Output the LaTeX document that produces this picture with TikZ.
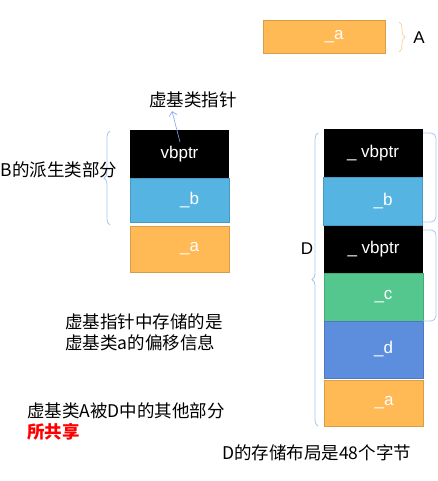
\documentclass[tikz,border=0pt]{standalone}
\usepackage{fontspec}
\setmainfont{Noto Sans CJK SC}
\newfontfamily\arialfont{Liberation Sans}
\usetikzlibrary{arrows.meta,decorations.pathreplacing}
\definecolor{ptrblack}{HTML}{000000}
\definecolor{bblue}{HTML}{56B4E2}
\definecolor{aorange}{HTML}{FFB955}
\definecolor{cgreen}{HTML}{54C78F}
\definecolor{dblue}{HTML}{5D8EDD}
\definecolor{braceblue}{HTML}{A6C8EE}
\definecolor{braceorange}{HTML}{FBD5A4}
\newcommand{\fld}[1]{\hspace*{20pt}\_#1}
\tikzset{
  cell/.style={minimum width=99pt,inner sep=0pt,text=white,
    font=\arialfont\fontsize{17}{19}\selectfont},
  note/.style={font=\fontsize{17.5}{21}\selectfont,align=left,inner sep=0pt},
  membrace/.style={draw=braceblue,line width=0.8pt,decorate,
    decoration={brace,amplitude=6pt}},
  edgebrace/.style={draw=braceblue,line width=0.8pt,rounded corners=5pt}
}
\begin{document}
\begin{tikzpicture}[x=1pt,y=-1pt]
    \useasboundingbox (0,0) rectangle (437,481);
    % base class A alone
    \node[cell,minimum width=122pt,minimum height=33pt,fill=aorange,draw=aorange!85!black] (abox) at (324,36.5) {\fld{a}};
    \draw[membrace,draw=braceorange] (399,22) -- (399,52);
    \node[font=\arialfont\fontsize{17}{19}\selectfont,inner sep=0pt] (aname) at (419,38) {A};

    % B object
    \node[cell,minimum height=48pt,fill=ptrblack] (bvb) at (179.5,154) {vbptr};
    \node[cell,minimum height=44pt,fill=bblue,draw=bblue!85!black] (bb) at (179.5,200) {\fld{b}};
    \node[cell,minimum height=46pt,fill=aorange,draw=aorange!85!black] (ba) at (179.5,249) {\fld{a}};
    \draw[membrace] (110,225) -- (110,131);
    \node[note] (bpart) at (59,170) {B的派生类部分};
    \node[note] (vbtag) at (193,100) {虚基类指针};
    \coordinate (ptrfoot) at (180,142);
    \draw[-{Straight Barb[length=4pt]},draw=braceblue!80!blue,line width=0.6pt]
      (ptrfoot) -- ([xshift=-21pt,yshift=-3pt]vbtag.south);

    % D object
    \node[cell,minimum height=48pt,fill=ptrblack] (dvb1) at (373,153) {\_ vbptr};
    \node[cell,minimum height=48pt,fill=bblue,draw=bblue!85!black] (db) at (373,201) {\fld{b}};
    \node[cell,minimum height=47pt,fill=ptrblack] (dvb2) at (373.5,249.5) {\_ vbptr};
    \node[cell,minimum height=48pt,fill=cgreen,draw=cgreen!85!black] (dc) at (373.5,297) {\fld{c}};
    \node[cell,minimum height=57pt,fill=dblue,draw=dblue!85!black] (dd) at (373.5,349.5) {\fld{d}};
    \node[cell,minimum height=46pt,fill=aorange,draw=aorange!85!black] (da) at (374,403) {\fld{a}};
    \draw[membrace] (318,426) -- (318,133);
    \node[font=\arialfont\fontsize{17}{19}\selectfont,inner sep=0pt] (dname) at (307,249) {D};
    \draw[edgebrace] (423,133) -- (436,133) -- (436,222) -- (423,222);
    \draw[edgebrace] (423,230) -- (436,230) -- (436,321) -- (423,321);

    % notes
    \node[note,anchor=west] (offset) at (65,332.5) {虚基指针中存储的是\\虚基类a的偏移信息};
    \node[note,anchor=west] (shared) at (27,421.5) {虚基类A被D中的其他部分\\
      \textcolor{red}{\bfseries 所共享}};
    \node[note,anchor=west] (size) at (222,453) {D的存储布局是48个字节};
\end{tikzpicture}
\end{document}
